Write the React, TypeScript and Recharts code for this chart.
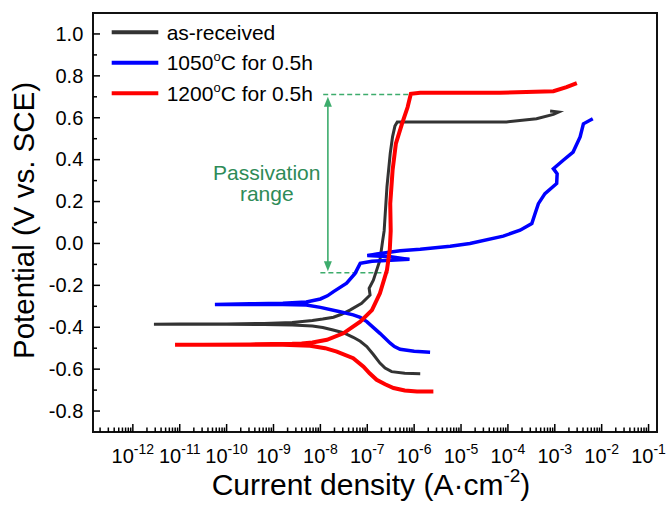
import React from 'react';
import {
  LineChart,
  Line,
  XAxis,
  YAxis,
  ReferenceArea,
  ReferenceLine,
  ReferenceDot,
  Legend,
} from 'recharts';

// Each point: [log10 of current density (A·cm^-2), potential (V vs. SCE)],
// listed in scan order: cathodic end -> corrosion potential -> anodic end.
const asReceived: [number, number][] = [
  [-5.87, -0.622], [-6.2, -0.62], [-6.48, -0.612], [-6.62, -0.595], [-6.73, -0.571],
  [-6.87, -0.53], [-7.01, -0.492], [-7.15, -0.467], [-7.3, -0.448], [-7.51, -0.426],
  [-7.73, -0.413], [-7.95, -0.401], [-8.17, -0.394], [-8.6, -0.389], [-9.2, -0.387],
  [-10.0, -0.386], [-11.0, -0.386], [-11.55, -0.386], [-11.0, -0.385], [-10.0, -0.384],
  [-9.2, -0.382], [-8.6, -0.377], [-8.17, -0.368], [-7.95, -0.361], [-7.72, -0.352],
  [-7.55, -0.338], [-7.37, -0.318], [-7.12, -0.286], [-6.94, -0.246], [-6.96, -0.214],
  [-6.87, -0.175], [-6.73, -0.08], [-6.67, 0.016], [-6.64, 0.06], [-6.58, 0.27],
  [-6.51, 0.43], [-6.46, 0.51], [-6.41, 0.56], [-6.36, 0.58], [-6.0, 0.58],
  [-5.0, 0.58], [-4.03, 0.58], [-3.39, 0.595], [-3.03, 0.616], [-2.92, 0.627],
  [-3.1, 0.632],
];

const annealed1050: [number, number][] = [
  [-5.66, -0.519], [-6.0, -0.515], [-6.3, -0.505], [-6.42, -0.492], [-6.51, -0.476],
  [-6.73, -0.429], [-7.01, -0.373], [-7.15, -0.353], [-7.3, -0.341], [-7.58, -0.326],
  [-8.0, -0.305], [-8.3, -0.294], [-8.8, -0.291], [-9.5, -0.291], [-10.25, -0.291],
  [-9.5, -0.288], [-8.8, -0.285], [-8.3, -0.279], [-8.0, -0.265], [-7.85, -0.25],
  [-7.72, -0.23], [-7.44, -0.19], [-7.26, -0.143], [-7.15, -0.095], [-6.9, -0.085],
  [-6.5, -0.08], [-6.1, -0.076], [-6.5, -0.063], [-7.0, -0.058], [-6.8, -0.05],
  [-6.3, -0.035], [-5.87, -0.028], [-5.23, -0.013], [-4.81, 0.0], [-4.1, 0.035],
  [-3.74, 0.063], [-3.49, 0.095], [-3.42, 0.143], [-3.35, 0.19], [-3.21, 0.238],
  [-2.96, 0.286], [-2.95, 0.333], [-3.03, 0.357], [-2.82, 0.397], [-2.61, 0.436],
  [-2.46, 0.508], [-2.39, 0.571], [-2.19, 0.595],
];

const annealed1200: [number, number][] = [
  [-5.59, -0.707], [-5.94, -0.707], [-6.2, -0.702], [-6.44, -0.69], [-6.62, -0.672],
  [-6.8, -0.651], [-6.95, -0.62], [-7.08, -0.588], [-7.3, -0.548], [-7.65, -0.516],
  [-7.9, -0.5], [-8.22, -0.488], [-8.8, -0.484], [-9.5, -0.483], [-10.3, -0.483],
  [-11.1, -0.484], [-10.5, -0.483], [-9.5, -0.482], [-8.6, -0.479], [-8.4, -0.477],
  [-8.17, -0.473], [-7.86, -0.46], [-7.51, -0.429], [-7.15, -0.373], [-6.9, -0.318],
  [-6.73, -0.238], [-6.58, -0.127], [-6.52, -0.03], [-6.5, 0.06], [-6.51, 0.19],
  [-6.46, 0.349], [-6.39, 0.476], [-6.26, 0.571], [-6.14, 0.65], [-6.07, 0.714],
  [-5.87, 0.719], [-4.17, 0.719], [-3.03, 0.727], [-2.75, 0.746], [-2.53, 0.765],
];

// Legend entries: main text, superscript, trailing text
const legendLabels: [string, string, string][] = [
  ['as-received', '', ''],
  ['1050', 'o', 'C for 0.5h'],
  ['1200', 'o', 'C for 0.5h'],
];
const seriesColors = ['#333333', '#0000ff', '#ff0000'];

// Axis ticks (decade exponents on x, potentials on y)
const xExponents = [-12, -11, -10, -9, -8, -7, -6, -5, -4, -3, -2, -1];
const xDomain: [number, number] = [-12.85, -0.82];
const yDomain: [number, number] = [-0.9, 1.1];

// Passivation range annotation
const passiveTop = 0.711;
const passiveBottom = -0.14;
const passiveTopSpan: [number, number] = [-7.94, -6.08];
const passiveBottomSpan: [number, number] = [-8.0, -6.55];
const arrowLogI = -7.84;
const arrowEnds: [number, number] = [0.7, -0.133];
const passiveLabelAt: [number, number] = [-9.143, 0.3];

const FONT = '"Liberation Sans", Arial, Helvetica, sans-serif';
const GREEN_LINE = '#3dac6c';
const GREEN_TEXT = '#2e8b57';

const toPoints = (arr: [number, number][]) => arr.map(([x, y]) => ({ x, y }));

// decade ticks plus log minor ticks (2..9 × 10^n)
const xTicks: number[] = [];
for (const n of [-13, ...xExponents]) {
  for (let k = 1; k <= 9; k++) {
    const v = n + Math.log10(k);
    if (v >= xDomain[0] && v <= xDomain[1]) xTicks.push(v);
  }
}
const yTicks: number[] = [];
for (let k = -8; k <= 10; k++) yTicks.push(k / 10);

const XTick = (props: any) => {
  const { x, y, payload } = props;
  const v = payload.value as number;
  const major = Math.abs(v - Math.round(v)) < 1e-6;
  return (
    <g>
      <line x1={x} x2={x} y1={y} y2={y - (major ? 8 : 4.5)} stroke="#000" strokeWidth={1.5} />
      {major && (
        <text x={x} y={y + 30.6} textAnchor="middle" fontSize={20} fill="#000" fontFamily={FONT}>
          10
          <tspan dy={-9} fontSize={14}>
            {String(Math.round(v))}
          </tspan>
        </text>
      )}
    </g>
  );
};

const YTick = (props: any) => {
  const { x, y, payload } = props;
  const v = payload.value as number;
  const k = Math.round(v * 10);
  const major = k % 2 === 0;
  return (
    <g>
      <line x1={x} x2={x + (major ? 7 : 4)} y1={y} y2={y} stroke="#000" strokeWidth={1.5} />
      {major && (
        <text x={x - 9.7} y={y + 6.8} textAnchor="end" fontSize={20} fill="#000" fontFamily={FONT}>
          {(k / 10).toFixed(1)}
        </text>
      )}
    </g>
  );
};

const XTitle = (props: any) => {
  const vb = props.viewBox || { x: 93, y: 432, width: 564, height: 73 };
  return (
    <text
      x={vb.x + vb.width / 2 - 4}
      y={vb.y + 63}
      textAnchor="middle"
      fontSize={30}
      fill="#000"
      fontFamily={FONT}
    >
      Current density (A·cm
      <tspan dy={-13} fontSize={19}>
        -2
      </tspan>
      <tspan dy={13}>)</tspan>
    </text>
  );
};

const YTitle = (props: any) => {
  const vb = props.viewBox || { x: 0, y: 13, width: 93, height: 419 };
  const cx = vb.x + 34;
  const cy = vb.y + vb.height / 2 - 2;
  return (
    <text
      transform={`translate(${cx}, ${cy}) rotate(-90)`}
      textAnchor="middle"
      fontSize={29.5}
      fill="#000"
      fontFamily={FONT}
    >
      Potential (V vs. SCE)
    </text>
  );
};

const LegendBox = () => (
  <svg width={250} height={100} style={{ display: 'block', overflow: 'visible' }}>
    {legendLabels.map(([main, sup, rest], i) => {
      const y = 18.3 + i * 30.5;
      return (
        <g key={main}>
          <line x1={11.7} x2={58.3} y1={y} y2={y} stroke={seriesColors[i]} strokeWidth={4} />
          <text x={66.7} y={y + 7.2} fontSize={21} fill="#000" fontFamily={FONT}>
            {main}
            {sup && (
              <tspan dy={-9} fontSize={13}>
                {sup}
              </tspan>
            )}
            {rest && <tspan dy={sup ? 9 : 0}>{rest}</tspan>}
          </text>
        </g>
      );
    })}
  </svg>
);

const DoubleArrow = (props: any) => {
  const { x1, y1, x2, y2 } = props;
  if ([x1, y1, x2, y2].some((v) => typeof v !== 'number' || isNaN(v))) return null;
  const head = 10;
  const half = 4;
  const top = Math.min(y1, y2);
  const bottom = Math.max(y1, y2);
  return (
    <g>
      <line x1={x1} x2={x2} y1={top + head - 1} y2={bottom - head + 1} stroke={GREEN_LINE} strokeWidth={1.6} />
      <polygon points={`${x1},${top} ${x1 - half},${top + head} ${x1 + half},${top + head}`} fill={GREEN_LINE} />
      <polygon
        points={`${x1},${bottom} ${x1 - half},${bottom - head} ${x1 + half},${bottom - head}`}
        fill={GREEN_LINE}
      />
    </g>
  );
};

const PassivationLabel = (props: any) => {
  const { cx, cy } = props;
  if (typeof cx !== 'number' || typeof cy !== 'number') return null;
  return (
    <g fontSize={21} fill={GREEN_TEXT} fontFamily={FONT}>
      <text x={cx} y={cy - 1} textAnchor="middle">
        Passivation
      </text>
      <text x={cx} y={cy + 20.5} textAnchor="middle">
        range
      </text>
    </g>
  );
};

export default function App() {
  return (
    <div style={{ position: 'absolute', left: 0, top: 0, background: '#fff' }}>
      <LineChart
        width={667}
        height={505}
        margin={{ top: 13, right: 10, bottom: 0, left: 0 }}
        style={{ fontFamily: FONT }}
      >
        <XAxis
          dataKey="x"
          type="number"
          domain={xDomain}
          allowDataOverflow
          ticks={xTicks}
          interval={0}
          tick={<XTick />}
          tickLine={false}
          tickSize={0}
          tickMargin={0}
          axisLine={false}
          height={73}
          label={XTitle}
        />
        <YAxis
          dataKey="y"
          type="number"
          domain={yDomain}
          allowDataOverflow
          ticks={yTicks}
          interval={0}
          tick={<YTick />}
          tickLine={false}
          tickSize={0}
          tickMargin={0}
          axisLine={false}
          width={93}
          label={YTitle}
        />
        <ReferenceArea
          x1={xDomain[0]}
          x2={xDomain[1]}
          y1={yDomain[0]}
          y2={yDomain[1]}
          fill="none"
          fillOpacity={0}
          stroke="#111"
          strokeWidth={2}
          ifOverflow="visible"
        />
        <ReferenceLine
          segment={[
            { x: passiveTopSpan[0], y: passiveTop },
            { x: passiveTopSpan[1], y: passiveTop },
          ]}
          stroke={GREEN_LINE}
          strokeWidth={1.6}
          strokeDasharray="5 3"
          ifOverflow="visible"
        />
        <ReferenceLine
          segment={[
            { x: passiveBottomSpan[0], y: passiveBottom },
            { x: passiveBottomSpan[1], y: passiveBottom },
          ]}
          stroke={GREEN_LINE}
          strokeWidth={1.6}
          strokeDasharray="5 3"
          ifOverflow="visible"
        />
        <ReferenceLine
          segment={[
            { x: arrowLogI, y: arrowEnds[0] },
            { x: arrowLogI, y: arrowEnds[1] },
          ]}
          shape={<DoubleArrow />}
          ifOverflow="visible"
        />
        <ReferenceDot
          x={passiveLabelAt[0]}
          y={passiveLabelAt[1]}
          r={0}
          shape={<PassivationLabel />}
          ifOverflow="visible"
        />
        <Line
          data={toPoints(asReceived)}
          dataKey="y"
          name="as-received"
          type="linear"
          stroke={seriesColors[0]}
          strokeWidth={3}
          dot={false}
          activeDot={false}
          isAnimationActive={false}
        />
        <Line
          data={toPoints(annealed1050)}
          dataKey="y"
          name="1050°C for 0.5h"
          type="linear"
          stroke={seriesColors[1]}
          strokeWidth={3.5}
          dot={false}
          activeDot={false}
          isAnimationActive={false}
        />
        <Line
          data={toPoints(annealed1200)}
          dataKey="y"
          name="1200°C for 0.5h"
          type="linear"
          stroke={seriesColors[2]}
          strokeWidth={4}
          dot={false}
          activeDot={false}
          isAnimationActive={false}
        />
        <Legend
          layout="vertical"
          align="center"
          verticalAlign="middle"
          content={<LegendBox />}
          wrapperStyle={{ left: 100, top: 14, width: 250, height: 100 }}
        />
      </LineChart>
    </div>
  );
}
